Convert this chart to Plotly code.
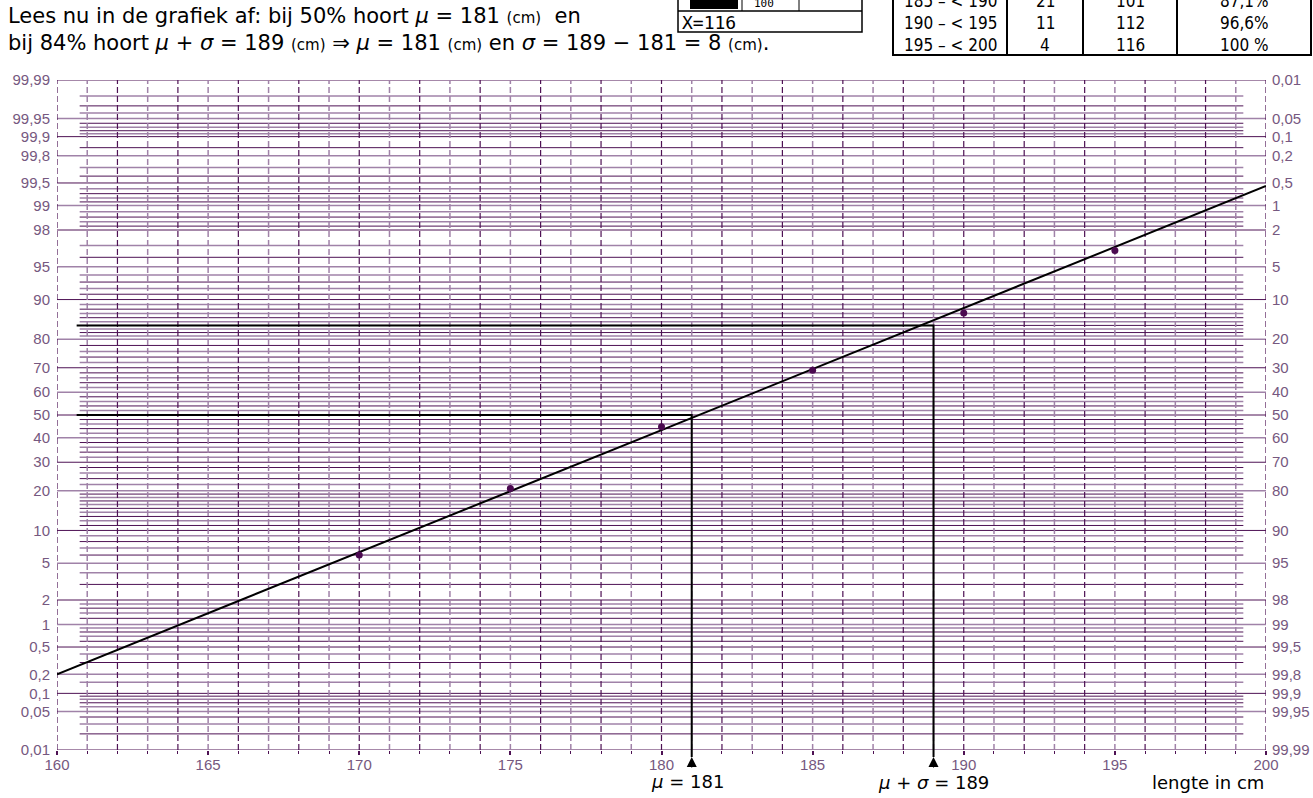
import plotly.graph_objects as go
from statistics import NormalDist

_nd = NormalDist()


def zq(p):
    return _nd.inv_cdf(p / 100.0)


# ---------------- data ----------------
lengths = [170, 175, 180, 185, 190, 195]
cum_pct = [6.0, 20.7, 44.8, 69.0, 87.1, 96.6]

fit_x = [160, 200]
fit_pct = [0.2, 99.45]

mu = 181
mu_plus_sigma = 189
ref_pct = [50, 84]

x_ticks = [160, 165, 170, 175, 180, 185, 190, 195, 200]
x_minor = [160, 161, 162, 163, 164, 165, 166, 167, 168, 169, 170, 171, 172, 173, 174, 175,
           176, 177, 178, 179, 180, 181, 182, 183, 184, 185, 186, 187, 188, 189, 190, 191,
           192, 193, 194, 195, 196, 197, 198, 199, 200]

major_pct = [0.01, 0.05, 0.1, 0.2, 0.5, 1, 2, 5, 10, 20, 30, 40, 50, 60, 70, 80, 90,
             95, 98, 99, 99.5, 99.8, 99.9, 99.95, 99.99]
left_labels = ["0,01", "0,05", "0,1", "0,2", "0,5", "1", "2", "5", "10", "20", "30", "40",
               "50", "60", "70", "80", "90", "95", "98", "99", "99,5", "99,8", "99,9",
               "99,95", "99,99"]
right_labels = ["99,99", "99,95", "99,9", "99,8", "99,5", "99", "98", "95", "90", "80",
                "70", "60", "50", "40", "30", "20", "10", "5", "2", "1", "0,5", "0,2",
                "0,1", "0,05", "0,01"]

minor_pct = [0.02, 0.03, 0.04, 0.06, 0.07, 0.08, 0.09, 0.15, 0.3, 0.4, 0.6, 0.7, 0.8, 0.9,
             1.2, 1.4, 1.6, 1.8, 3, 4, 6, 7, 8, 9, 11, 12, 13, 14, 15, 16, 17, 18, 19,
             22, 24, 26, 28, 32, 34, 36, 38, 42, 44, 46, 48,
             52, 54, 56, 58, 62, 64, 66, 68, 72, 74, 76, 78,
             81, 82, 83, 84, 85, 86, 87, 88, 89, 91, 92, 93, 94, 96, 97, 98.2, 98.4, 98.6,
             98.8, 99.1, 99.2, 99.3, 99.4, 99.6, 99.7, 99.85, 99.91, 99.92, 99.93, 99.94,
             99.96, 99.97, 99.98]

table_rows = [
    ["185 – < 190", "21", "101", "87,1%"],
    ["190 – < 195", "11", "112", "96,6%"],
    ["195 – < 200", "4", "116", "100 %"],
]

# ---------------- geometry / style (page pixels) ----------------
W, H = 1313, 798
L, R, T, B = 57, 1266, 80, 750
DARK = "rgb(78,18,84)"
LIGHT = "rgb(160,130,168)"
LABEL = "rgb(118,88,128)"
TXT_FONT = "DejaVu Sans"


def px(xp):
    return (xp - L) / (R - L)


def py(yp):
    return (B - yp) / (B - T)


def xpix(v):
    return L + (v - 160) * (R - L) / 40.0


fig = go.Figure()


def note(xp, yp, text, size, family=TXT_FONT, xanchor="center", color="black"):
    fig.add_annotation(x=px(xp), y=py(yp), xref="paper", yref="paper", showarrow=False,
                       xanchor=xanchor, yanchor="middle", text=text,
                       font=dict(family=family, size=size, color=color))


ymin, ymax = zq(0.01), zq(99.99)


def hlines(pcts, x0, x1, color, width):
    xs, ys = [], []
    for p in pcts:
        xs += [x0, x1, None]
        ys += [zq(p), zq(p), None]
    fig.add_trace(go.Scatter(x=xs, y=ys, mode="lines", line=dict(color=color, width=width),
                             hoverinfo="skip", showlegend=False))


# minor horizontal grid lines (alternating dark / light rendering)
hlines(minor_pct[0::2], 160.75, 199.25, DARK, 1.0)
hlines(minor_pct[1::2], 160.75, 199.25, LIGHT, 1.5)
# major horizontal grid lines
hlines(major_pct[0::2], 160, 200, DARK, 1.0)
hlines(major_pct[1::2], 160, 200, LIGHT, 1.5)

# vertical dashed grid lines
for vals, col, wd in [(x_minor[0::2], DARK, 1.2), (x_minor[1::2], LIGHT, 1.5)]:
    vx, vy = [], []
    for v in vals:
        vx += [v, v, None]
        vy += [ymin, ymax, None]
    fig.add_trace(go.Scatter(x=vx, y=vy, mode="lines",
                             line=dict(color=col, width=wd, dash="6px,3px"),
                             hoverinfo="skip", showlegend=False))

# invisible helper so that the right-hand axis is drawn
fig.add_trace(go.Scatter(x=[160], y=[ymin], yaxis="y2", mode="markers",
                         marker=dict(opacity=0), hoverinfo="skip", showlegend=False))

# fitted straight line
fig.add_trace(go.Scatter(x=fit_x, y=[zq(p) for p in fit_pct], mode="lines",
                         line=dict(color="black", width=2), showlegend=False))

# reference lines mu and mu+sigma
for xv, pv in zip([mu, mu_plus_sigma], ref_pct):
    fig.add_trace(go.Scatter(x=[160.65, xv, xv], y=[zq(pv), zq(pv), ymin], mode="lines",
                             line=dict(color="black", width=2), showlegend=False))
    fig.add_shape(type="line", xref="x", yref="paper", x0=xv, x1=xv, y0=0, y1=py(757),
                  line=dict(color="black", width=2))
    fig.add_annotation(x=xv, y=py(757), xref="x", yref="paper", text="", showarrow=True,
                       arrowhead=2, arrowsize=2.0, arrowwidth=1, arrowcolor="black",
                       ax=0, ay=12)

# data points
fig.add_trace(go.Scatter(x=lengths, y=[zq(p) for p in cum_pct], mode="markers",
                         marker=dict(color="rgb(75,10,80)", size=7), showlegend=False))

# bottom labels
note(xpix(mu) - 4, 781, "<i>μ</i> = 181", 18)
note(xpix(mu_plus_sigma), 782, "<i>μ</i> + <i>σ</i> = 189", 18)
note(1266, 782, "lengte in cm", 18, xanchor="right")

# top text
note(6, 16, "Lees nu in de grafiek af: bij 50% hoort <i>μ</i> = 181 "
            "<span style='font-size:15px'>(cm)</span>  en", 21, xanchor="left")
note(6, 43, "bij 84% hoort <i>μ</i> + <i>σ</i> = 189 "
            "<span style='font-size:15px'>(cm)</span> ⇒ <i>μ</i> = 181 "
            "<span style='font-size:15px'>(cm)</span> en <i>σ</i> = 189 − 181 = 8 "
            "<span style='font-size:15px'>(cm)</span>.", 21, xanchor="left")

# calculator screen fragment
fig.add_shape(type="rect", xref="paper", yref="paper", x0=px(678), x1=px(862),
              y0=py(32), y1=py(-5), line=dict(color="black", width=1.5), fillcolor="white")
fig.add_shape(type="line", xref="paper", yref="paper", x0=px(678), x1=px(862),
              y0=py(11), y1=py(11), line=dict(color="black", width=1.5))
for xv in [742, 799]:
    fig.add_shape(type="line", xref="paper", yref="paper", x0=px(xv), x1=px(xv),
                  y0=py(11), y1=py(-5), line=dict(color="black", width=1))
fig.add_shape(type="rect", xref="paper", yref="paper", x0=px(690), x1=px(738),
              y0=py(9), y1=py(-5), line=dict(width=0), fillcolor="black")
note(680, 22, "X=116", 18, family="DejaVu Sans Mono", xanchor="left")
note(752, 3, "100", 11, family="DejaVu Sans Mono", xanchor="left")

# table fragment
col_edges = [893, 1007, 1083, 1177, 1311]
fig.add_shape(type="rect", xref="paper", yref="paper", x0=px(col_edges[0]),
              x1=px(col_edges[-1]), y0=py(55), y1=py(-5),
              line=dict(color="black", width=2), fillcolor="white")
for xv in col_edges[1:-1]:
    fig.add_shape(type="line", xref="paper", yref="paper", x0=px(xv), x1=px(xv),
                  y0=py(55), y1=py(-5), line=dict(color="black", width=2))
row_y = [1, 23, 45]
for r, yy in zip(table_rows, row_y):
    for c, txt in enumerate(r):
        cx = (col_edges[c] + col_edges[c + 1]) / 2
        note(cx, yy, txt, 17, family="DejaVu Sans Condensed")

axis_font = dict(family="Liberation Sans, Arial", size=15, color=LABEL)

fig.update_layout(
    width=W, height=H,
    margin=dict(l=L, r=W - R, t=T, b=H - B, pad=0),
    paper_bgcolor="white", plot_bgcolor="white",
    showlegend=False,
    xaxis=dict(range=[160, 200], tickvals=x_ticks, ticktext=[str(v) for v in x_ticks],
               showgrid=False, zeroline=False, showline=False, automargin=False,
               ticks="outside", ticklen=4, tickwidth=2, tickcolor=DARK,
               ticklabelstandoff=-3,
               minor=dict(tickvals=x_minor, ticks="outside", ticklen=3, tickcolor=DARK,
                          tickwidth=1),
               tickfont=axis_font),
    yaxis=dict(range=[ymin, ymax], tickvals=[zq(p) for p in major_pct],
               ticktext=left_labels, showgrid=False, zeroline=False, showline=False,
               automargin=False, ticks="", tickfont=axis_font, ticklabelstandoff=6),
    yaxis2=dict(range=[ymin, ymax], overlaying="y", side="right",
                tickvals=[zq(p) for p in major_pct], ticktext=right_labels,
                showgrid=False, zeroline=False, showline=False, automargin=False,
                ticks="", tickfont=axis_font, ticklabelstandoff=5),
)

fig.write_html("out.html",
               config={"displayModeBar": False},
               post_script="document.body.style.margin='0px';"
                           "document.body.style.overflow='hidden';")
